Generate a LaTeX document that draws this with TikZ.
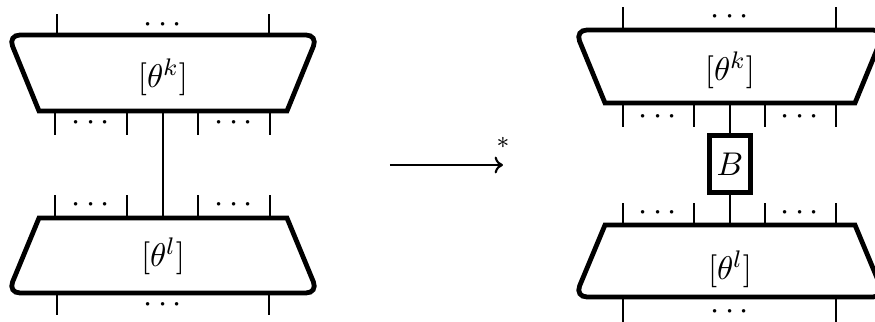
\documentclass[11pt,tikz,border=0pt]{standalone}
\usetikzlibrary{arrows.meta,positioning}
\tikzset{
  blob/.style={line width=1.6pt},
  wire/.style={line width=0.7pt},
  ellip/.style={inner sep=0pt},
  lbl/.style={inner sep=1pt},
  bbox/.style={draw,line width=1.6pt,minimum width=13.8pt,minimum height=19.2pt,inner sep=0pt},
  arr/.style={-{To[length=2.8pt,width=5.6pt]},line width=0.7pt}
}
\begin{document}
\begin{tikzpicture}[x=0.3333pt,y=-0.3333pt]
\path[use as bounding box] (0,0) rectangle (875,322);

% left side: theta^k and theta^l joined by one wire
\draw[blob] (39,111) [rounded corners=4pt] -- (8,35) -- (318,35) [sharp corners] -- (287,111) -- cycle;
\draw[blob] (39,218) -- (287,218) [rounded corners=4pt] -- (318,293) -- (8,293) [sharp corners] -- cycle;
\node[lbl] (lk) at (163,77) {$[\theta^k]$};
\node[lbl] (ll) at (163,256) {$[\theta^l]$};
\foreach \x [count=\i] in {57,269}{
  \coordinate (lktop\i) at (\x,35); \coordinate (lktopend\i) at (\x,14); \draw[wire] (lktop\i)--(lktopend\i);
  \coordinate (llbot\i) at (\x,293); \coordinate (llbotend\i) at (\x,315); \draw[wire] (llbot\i)--(llbotend\i);
}
\foreach \x [count=\i] in {55,127,198,270}{
  \coordinate (lkbot\i) at (\x,111); \coordinate (lkbotend\i) at (\x,135); \draw[wire] (lkbot\i)--(lkbotend\i);
  \coordinate (lltop\i) at (\x,218); \coordinate (lltopend\i) at (\x,195); \draw[wire] (lltop\i)--(lltopend\i);
}
\coordinate (lkmid) at (163,111); \coordinate (llmid) at (163,218);
\draw[wire] (lkmid)--(llmid);
\foreach \x/\y [count=\i] in {163/25,91/123,234/123,91/205,234/205,163/305}
  \node[ellip] (ldots\i) at (\x,\y) {$\cdots$};

% arrow
\coordinate (arrs) at (390,165); \coordinate (arre) at (503,165);
\draw[arr] (arrs)--(arre);
\node[font=\scriptsize,inner sep=0pt] (star) at (503,143) {$\ast$};

% right side: B box inserted on the wire
\draw[blob] (605,103) [rounded corners=4pt] -- (575,30) -- (885,30) [sharp corners] -- (855,103) -- cycle;
\draw[blob] (605,225) -- (855,225) [rounded corners=4pt] -- (885,297) -- (575,297) [sharp corners] -- cycle;
\node[lbl] (rk) at (730,70) {$[\theta^k]$};
\node[lbl] (rl) at (730,269) {$[\theta^l]$};
\foreach \x [count=\i] in {623,836}{
  \coordinate (rktop\i) at (\x,30); \coordinate (rktopend\i) at (\x,7); \draw[wire] (rktop\i)--(rktopend\i);
  \coordinate (rlbot\i) at (\x,297); \coordinate (rlbotend\i) at (\x,326); \draw[wire] (rlbot\i)--(rlbotend\i);
}
\foreach \x [count=\i] in {623,694,765,836}{
  \coordinate (rkbot\i) at (\x,103); \coordinate (rkbotend\i) at (\x,127); \draw[wire] (rkbot\i)--(rkbotend\i);
  \coordinate (rltop\i) at (\x,225); \coordinate (rltopend\i) at (\x,203); \draw[wire] (rltop\i)--(rltopend\i);
}
\node[bbox] (B) at (730,164) {$B$};
\coordinate (rkmid) at (730,103); \coordinate (rlmid) at (730,225);
\draw[wire] (rkmid)--(B); \draw[wire] (B)--(rlmid);
\foreach \x/\y [count=\i] in {730/17,658/117,800/117,658/213,800/213,730/312}
  \node[ellip] (rdots\i) at (\x,\y) {$\cdots$};
\end{tikzpicture}
\end{document}
